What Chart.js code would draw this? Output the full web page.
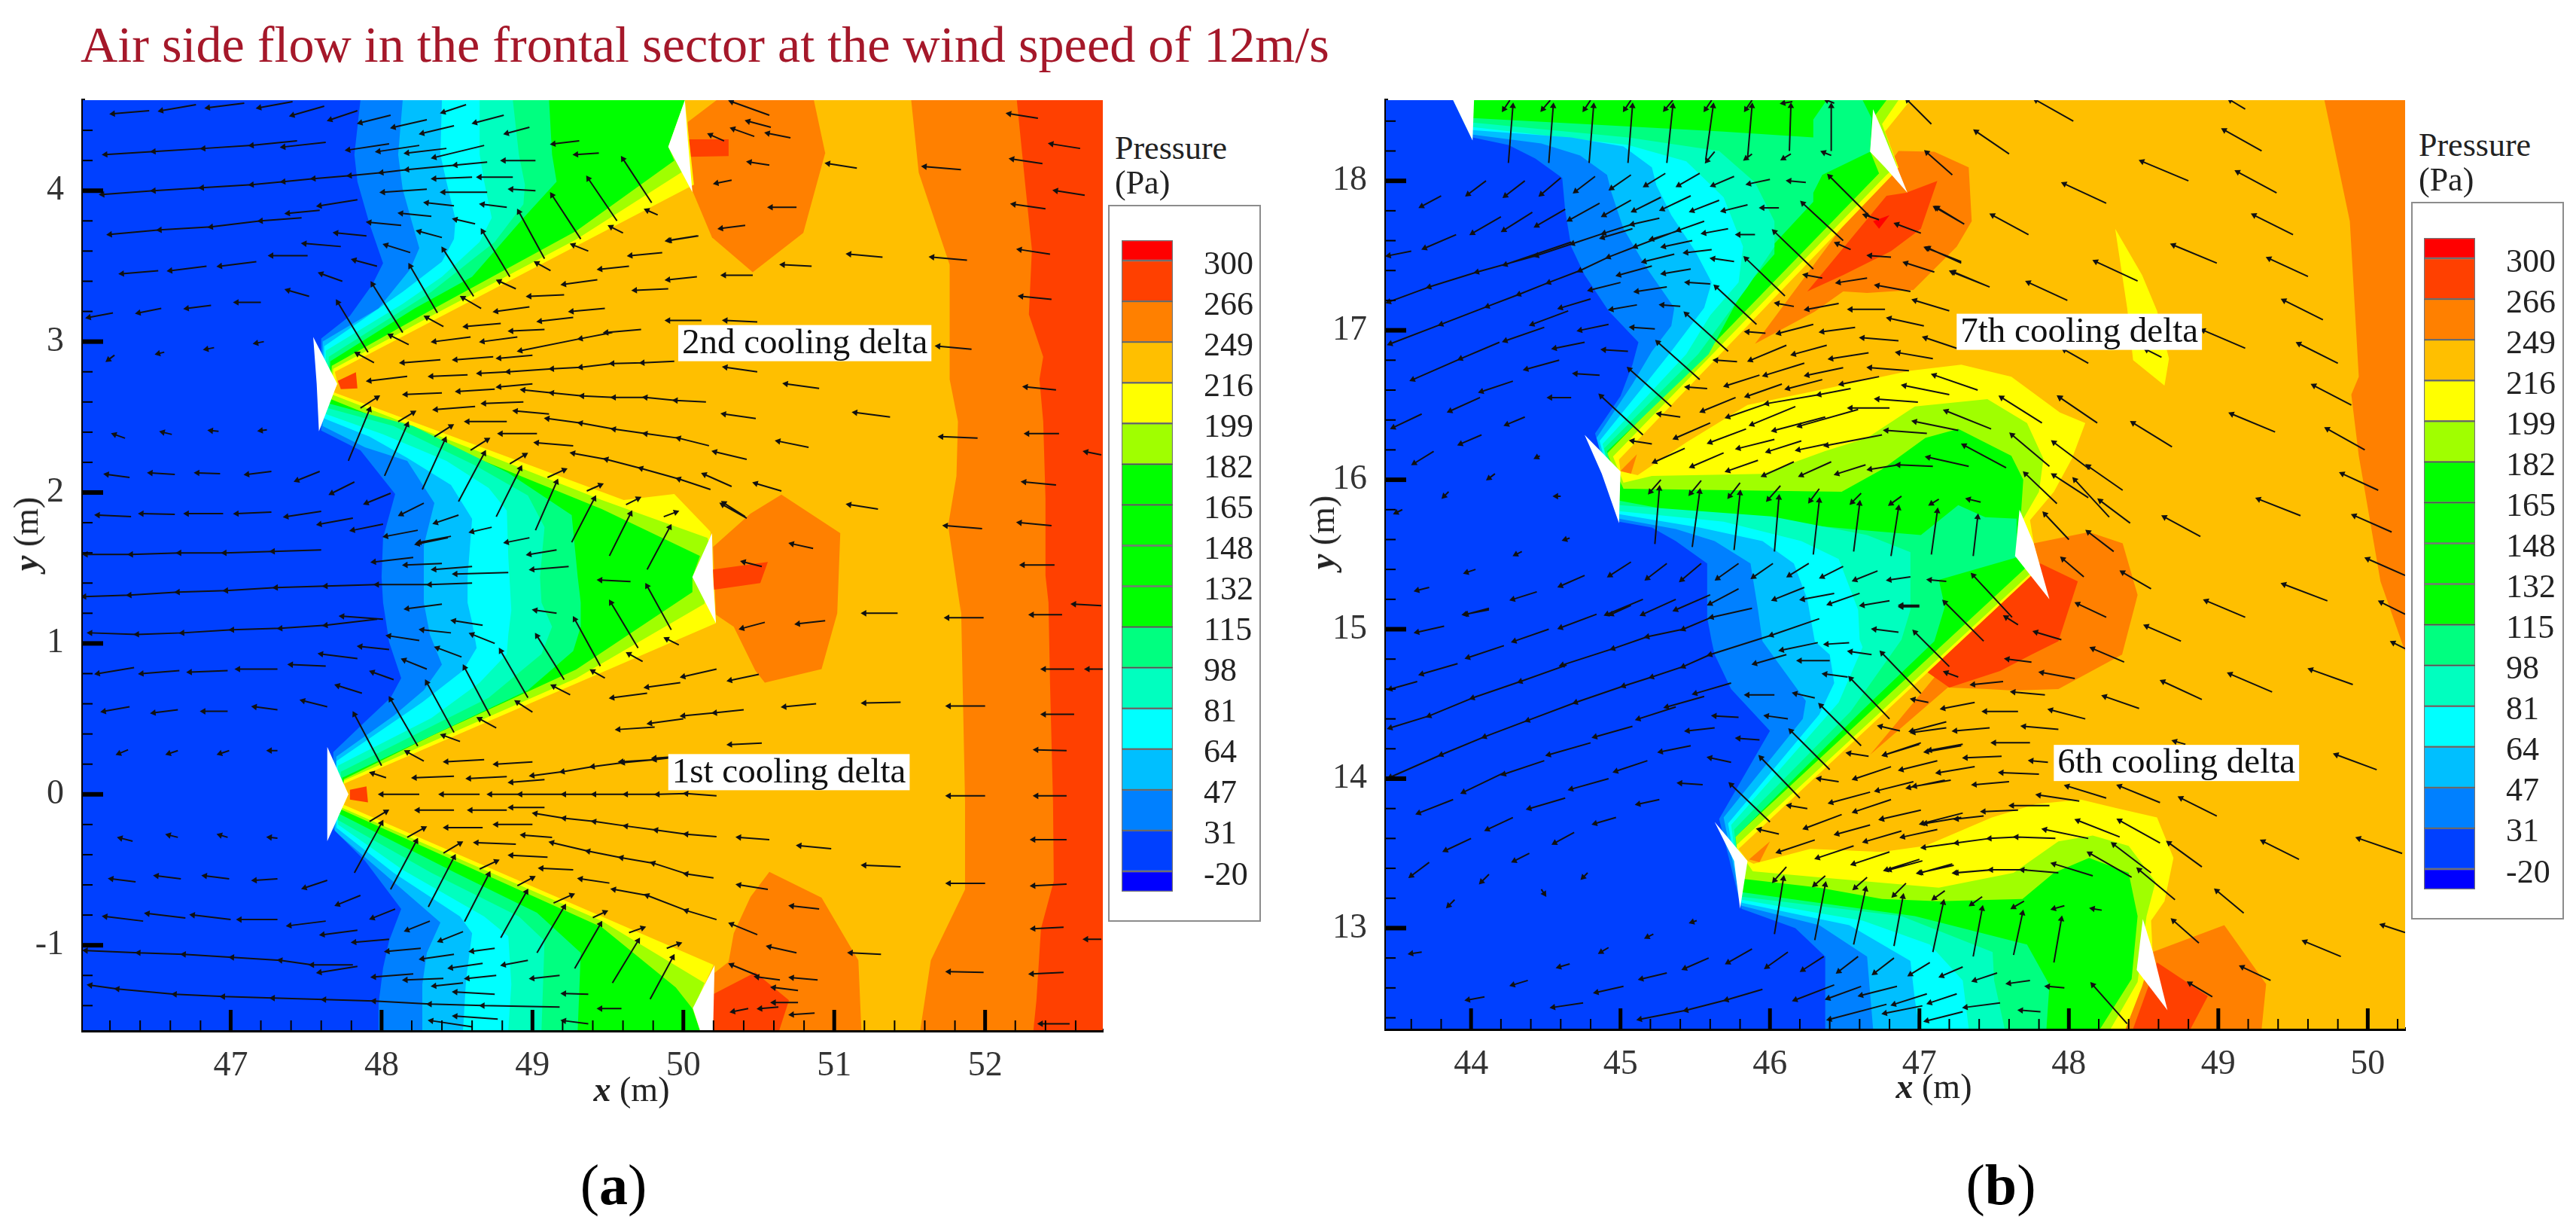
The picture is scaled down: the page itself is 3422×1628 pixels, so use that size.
<!DOCTYPE html>
<html>
<head>
<meta charset="utf-8">
<title>Air side flow in the frontal sector</title>
<script src="https://cdn.jsdelivr.net/npm/chart.js@4"></script>
<style>
html, body { margin: 0; background: #fff; }
body { position: relative; width: 3422px; height: 1628px; overflow: hidden; font-family: "Liberation Serif", serif; color: #222; filter: blur(0.6px); }
canvas { position: absolute; }
.txt { position: absolute; white-space: nowrap; transform: translate(-50%, -50%); line-height: 1; }
.axis { font-size: 46px; }
.axis b { font-style: italic; }
.press { position: absolute; white-space: nowrap; font-size: 44px; line-height: 1; transform: translateY(-50%); }
.cap { font-size: 76px; color: #000; }
#title { position: absolute; left: 107px; top: 24px; font-size: 68.2px; line-height: 70px; color: #a5182a; white-space: nowrap; }
.bar { outline: 2px solid #8c8c8c; outline-offset: -2px; }
</style>
</head>
<body>
<div id="title">Air side flow in the frontal sector at the wind speed of 12m/s</div>

<canvas id="plotA" width="1470" height="1470" style="left:0;top:0"></canvas>
<canvas id="plotB" width="1500" height="1470" style="left:1700px;top:0"></canvas>
<canvas id="barA" class="bar" width="203" height="952" style="left:1472px;top:272px"></canvas>
<canvas id="barB" class="bar" width="203" height="953" style="left:3203px;top:268px"></canvas>

<div class="txt axis" style="left:839px;top:1447px"><b>x</b> (m)</div>
<div class="txt axis" style="left:2569px;top:1443px"><b>x</b> (m)</div>
<div class="txt axis" style="left:35px;top:709px;transform:translate(-50%,-50%) rotate(-90deg)"><b>y</b> (m)</div>
<div class="txt axis" style="left:1757px;top:707px;transform:translate(-50%,-50%) rotate(-90deg)"><b>y</b> (m)</div>
<div class="press" style="left:1481px;top:197px">Pressure</div>
<div class="press" style="left:1481px;top:243px">(Pa)</div>
<div class="press" style="left:3213px;top:193px">Pressure</div>
<div class="press" style="left:3213px;top:239px">(Pa)</div>
<div class="txt cap" style="left:815px;top:1573px">(<b>a</b>)</div>
<div class="txt cap" style="left:2658px;top:1573px">(<b>b</b>)</div>

<script>
// Colour bar, bottom to top
const levels = ['-20', '31', '47', '64', '81', '98', '115', '132', '148', '165', '182', '199', '216', '249', '266', '300'];
const bandColors = ['#0000ff', '#0040ff', '#0080ff', '#00bfff', '#00ffff', '#00ffbf', '#00ff80', '#00ff00', '#00ff00',
    '#00ff00', '#00ff00', '#a0ff00', '#ffff00', '#ffbf00', '#ff8000', '#ff4000', '#ff0000'];
const bandHeights = [0.5, 1, 1, 1, 1, 1, 1, 1, 1, 1, 1, 1, 1, 1, 1, 1, 0.5];

const xRangeA = [46.02, 52.78];
const yRangeA = [-1.563, 4.6];
const xRangeB = [43.43, 50.25];
const yRangeB = [12.327, 18.54];

// Panel (a), pressure contours
const a31 = [[47.86,4.6],[47.82,4.24],[47.84,4.06],[47.92,3.78],[48.01,3.52],[47.94,3.38],[47.79,3.17],[47.6,3.02],[47.6,2.41],[47.86,2.28],[48.09,1.99],[48.01,1.7],[48,1.44],[48.01,1.27],[48.05,1.01],[48.13,0.77],[48.06,0.64],[47.89,0.48],[47.68,0.28],[47.68,-0.23],[47.89,-0.44],[48.13,-0.76],[48.05,-0.97],[48.01,-1.15],[47.98,-1.39],[47.98,-1.563]];
const a47 = [[48.14,4.6],[48.11,4.24],[48.14,4.01],[48.21,3.76],[48.25,3.62],[48.19,3.48],[47.98,3.22],[47.61,3],[47.61,2.44],[47.89,2.3],[48.17,2.21],[48.35,1.93],[48.28,1.65],[48.28,1.27],[48.32,1.06],[48.4,0.86],[48.28,0.69],[48.08,0.52],[47.7,0.25],[47.69,-0.245],[48.01,-0.52],[48.39,-0.85],[48.3,-1.05],[48.27,-1.26],[48.27,-1.563]];
const a64 = [[48.4,4.6],[48.39,4.24],[48.43,4.06],[48.49,3.81],[48.48,3.68],[48.4,3.53],[48.14,3.33],[47.62,2.97],[47.62,2.49],[47.92,2.37],[48.17,2.23],[48.46,2.05],[48.6,1.825],[48.57,1.44],[48.57,1.27],[48.6,1.14],[48.63,0.97],[48.54,0.82],[48.27,0.61],[47.7,0.22],[47.7,-0.22],[48.08,-0.52],[48.52,-0.81],[48.6,-0.92],[48.56,-1.23],[48.54,-1.563]];
const a81 = [[48.65,4.6],[48.65,4.24],[48.68,4.06],[48.73,3.82],[48.65,3.66],[48.4,3.43],[48.14,3.25],[47.63,2.94],[47.63,2.52],[48.01,2.385],[48.43,2.21],[48.71,2.03],[48.83,1.88],[48.84,1.57],[48.86,1.22],[48.84,1.06],[48.83,0.93],[48.65,0.74],[48.33,0.505],[47.71,0.19],[47.71,-0.2],[48.14,-0.5],[48.68,-0.81],[48.84,-0.94],[48.86,-1.26],[48.84,-1.563]];
const a98 = [[48.87,4.6],[48.91,4.24],[48.95,4.04],[48.94,3.91],[48.75,3.66],[48.33,3.33],[47.65,2.9],[47.64,2.56],[48.08,2.44],[48.62,2.18],[48.97,1.98],[49.08,1.77],[49.05,1.44],[49.06,1.27],[49.13,1.11],[49.06,0.93],[48.71,0.64],[47.73,0.15],[47.71,-0.17],[48.33,-0.52],[48.91,-0.81],[49.08,-0.97],[49.06,-1.563]];
const a115 = [[49.11,4.6],[49.13,4.24],[49.16,4.06],[48.95,3.83],[48.6,3.43],[48.22,3.22],[47.66,2.87],[47.65,2.59],[48.21,2.44],[48.84,2.13],[49.26,1.85],[49.3,1.44],[49.32,1.27],[49.32,1.11],[49.27,0.95],[48.97,0.69],[47.74,0.11],[47.72,-0.13],[48.49,-0.52],[49.03,-0.785],[49.32,-1.05],[49.3,-1.563]];
const a182 = [[50.01,4.6],[49.9,4.29],[49.94,4.2],[49.29,3.733],[48.33,3.21],[47.67,2.84],[47.66,2.62],[48.65,2.22],[49.46,1.89],[50.11,1.58],[50.06,1.44],[50.06,1.34],[49.29,0.827],[48.33,0.387],[47.75,0.1],[47.73,-0.1],[49.46,-0.88],[49.95,-1.28],[50.06,-1.42],[50.11,-1.563]];
const a199 = [[50.01,4.6],[49.9,4.29],[50,4.13],[49.29,3.677],[48.33,3.17],[47.68,2.82],[47.67,2.65],[48.65,2.27],[49.46,1.95],[49.78,1.835],[50.16,1.7],[50.19,1.6],[50.14,1.263],[49.29,0.769],[48.33,0.347],[47.75,0.09],[47.74,-0.09],[49.46,-0.84],[50.14,-1.25],[50.07,-1.42],[50.11,-1.563]];
const a216 = [[50.01,4.6],[50.07,4.04],[47.69,2.8],[47.71,2.72],[47.68,2.665],[49.605,1.95],[49.94,1.99],[50.18,1.74],[50.216,1.134],[47.75,0.07],[47.78,0],[47.75,-0.07],[50.2,-1.13],[50.07,-1.42],[50.11,-1.563]];
const aStrip249 = [[51.51,4.6],[51.56,4.12],[51.765,3.51],[51.765,3.23],[51.765,2.75],[51.82,2.47],[51.81,2.11],[51.755,1.78],[51.84,1.2],[51.84,1.27],[51.867,-0.05],[51.867,-0.63],[51.64,-1.1],[51.57,-1.563],[52.78,-1.563],[52.78,4.6]];
const aStrip266 = [[52.21,4.6],[52.27,4],[52.31,3.61],[52.29,3.18],[52.385,2.9],[52.36,2.75],[52.385,2.47],[52.4,1.96],[52.4,1.45],[52.42,1.27],[52.43,0.74],[52.45,-0.05],[52.455,-0.575],[52.37,-0.89],[52.34,-1.365],[52.32,-1.563],[52.78,-1.563],[52.78,4.6]];
const aBlobs249 = [
    [[50.03,4.455],[50.22,4.6],[50.865,4.6],[50.94,4.25],[50.795,3.72],[50.46,3.46],[50.19,3.69],[50.06,4],[50.03,4.3]],
    [[50.197,1.64],[50.445,1.86],[50.65,1.986],[51.04,1.73],[51.02,1.2],[50.916,0.83],[50.54,0.74],[50.477,0.82],[50.334,1.11],[50.216,1.19]],
    [[50.57,-0.514],[50.916,-0.685],[51.16,-1.1],[51.18,-1.563],[50.197,-1.563],[50.197,-1.19],[50.3,-1.11],[50.334,-0.92],[50.445,-0.68]]
];
const aBlobs266 = [
    [[50.03,4.34],[50.3,4.34],[50.3,4.23],[50.04,4.225]],
    [[50.197,1.49],[50.56,1.54],[50.51,1.4],[50.197,1.355]],
    [[50.197,-1.325],[50.477,-1.18],[50.7,-1.365],[50.636,-1.563],[50.197,-1.563]],
    [[47.71,2.74],[47.83,2.797],[47.84,2.69],[47.73,2.685]],
    [[47.79,0.03],[47.9,0.052],[47.91,-0.053],[47.79,-0.035]]
];
const aStruts = [
    [[50.01,4.6],[49.9,4.29],[50.06,3.99],[50.03,4.33]],
    [[47.547,3.03],[47.706,2.72],[47.585,2.405],[47.57,2.72]],
    [[50.19,1.73],[50.06,1.44],[50.216,1.134],[50.197,1.44]],
    [[47.64,0.315],[47.78,0],[47.64,-0.311]],
    [[50.207,-1.133],[50.063,-1.417],[50.11,-1.563],[50.197,-1.563]]
];

// Panel (a), velocity arrows: head x, head y, tail x, tail y
const arrowsA = [
[46.22,4.51,46.46,4.53],[46.54,4.53,46.77,4.57],[46.85,4.55,47.09,4.58],[47.19,4.55,47.41,4.59],[47.41,4.5,47.62,4.56],[47.66,4.47,47.84,4.53],
[47.35,4.29,47.63,4.32],[47.78,4.27,48.05,4.31],[47.38,3.85,47.59,3.87],[47.59,3.9,47.84,3.94],
[46.28,3.45,46.52,3.47],[46.6,3.47,46.84,3.5],[46.93,3.5,47.17,3.53],[47.27,3.57,47.51,3.57],
[46.06,3.16,46.22,3.19],[46.39,3.19,46.54,3.22],[46.71,3.22,46.87,3.24],[47.04,3.26,47.2,3.26],[47.38,3.34,47.52,3.3],
[46.19,2.88,46.23,2.91],[46.52,2.92,46.56,2.93],[46.84,2.95,46.89,2.96],[47.17,2.99,47.22,3],
[46.23,2.385,46.3,2.36],[46.55,2.4,46.61,2.385],[46.87,2.41,46.92,2.405],[47.2,2.41,47.24,2.415],
[46.18,2.12,46.33,2.1],[46.47,2.13,46.63,2.12],[46.78,2.13,46.93,2.125],[47.11,2.12,47.27,2.14],[47.44,2.08,47.59,2.14],[47.67,1.995,47.82,2.07],[47.9,1.93,48.06,1.995],[48.13,1.855,48.28,1.93],[48.36,1.8,48.51,1.85],
[46.12,1.85,46.34,1.84],[46.41,1.86,46.63,1.855],[46.71,1.86,46.95,1.86],[47.04,1.86,47.27,1.87],[47.37,1.84,47.6,1.875],[47.59,1.79,47.81,1.83],[47.81,1.75,48.01,1.79],[48.03,1.71,48.24,1.75],[48.24,1.66,48.44,1.7],
[47.86,4.45,48.06,4.5],[48.08,4.42,48.3,4.47],[48.27,4.38,48.48,4.43],[48.41,4.52,48.56,4.57],[48.62,4.45,48.81,4.5],[48.83,4.38,48.98,4.42],[47.98,4.26,48.25,4.3],[48.17,4.25,48.43,4.28],[48.35,4.22,48.68,4.3],[49.14,4.31,49.31,4.33],[49.29,4.24,49.44,4.25],[48.81,4.2,49.02,4.2],
[48.35,4.08,48.6,4.09],[48.65,4.09,48.87,4.09],[48.01,3.99,48.3,4.01],[48.41,3.99,48.7,3.99],[48.86,4.01,49.02,4],[48.13,3.85,48.33,3.83],[48.3,3.92,48.48,3.9],[48.67,3.91,48.83,3.89],[47.92,3.79,48.13,3.77],[48.49,3.81,48.62,3.78],[48.25,3.73,48.4,3.69],[47.7,3.72,47.9,3.7],[47.49,3.65,47.73,3.63],[48.03,3.64,48.19,3.59],[47.82,3.54,47.97,3.5],[47.6,3.45,47.74,3.4],
[49.6,4.21,49.79,3.92],[49.37,4.08,49.56,3.8],[49.13,3.97,49.32,3.68],[48.91,3.86,49.08,3.55],[48.67,3.73,48.85,3.43],[48.41,3.61,48.61,3.3],[48.19,3.5,48.37,3.19],[47.94,3.38,48.14,3.06],[47.71,3.26,47.91,2.93],
[49.76,3.87,49.83,3.84],[49.52,3.76,49.6,3.72],[49.27,3.64,49.37,3.6],[49.03,3.52,49.12,3.47],[48.78,3.4,48.89,3.35],[48.54,3.29,48.66,3.22],[48.3,3.16,48.41,3.1],[48.06,3.04,48.18,2.98],[47.84,2.92,47.95,2.86],
[49.91,3.67,50.1,3.7],[49.65,3.57,49.86,3.59],[49.45,3.48,49.64,3.5],[49.21,3.38,49.43,3.41],[48.98,3.3,49.21,3.31],[48.76,3.2,48.98,3.23],[49.26,3.2,49.48,3.22],[49.05,3.135,49.27,3.16],[48.56,3.1,48.79,3.12],[48.86,3.07,49.08,3.08],[49.49,3.06,49.72,3.08],[48.35,3,48.59,3.03],[48.67,3,48.9,3.03],[48.92,2.94,49.32,3.02],[49.32,3.02,49.53,3.06],[48.14,2.86,48.39,2.88],[48.49,2.88,48.74,2.9],[48.78,2.89,49,2.91],
[47.92,2.74,48.17,2.77],[48.33,2.77,48.57,2.78],[48.16,2.65,48.4,2.66],[48.51,2.67,48.75,2.685],[48.78,2.7,49,2.72],[48.36,2.55,48.62,2.57],[48.68,2.59,48.94,2.6],[48.89,2.54,49.11,2.52],[48.57,2.47,48.83,2.47],[48.79,2.39,49.03,2.39],[49.03,2.33,49.27,2.31],[50.27,1.93,50.41,1.84],
[47.92,2.55,47.78,2.21],[48.17,2.45,48.02,2.11],[48.42,2.35,48.27,2.02],[48.68,2.26,48.51,1.94],[48.92,2.16,48.76,1.84],[49.16,2.07,49.02,1.75],[49.41,1.96,49.26,1.67],[49.65,1.86,49.51,1.58],[49.91,1.77,49.76,1.49],
[47.97,2.63,47.86,2.56],[48.21,2.53,48.11,2.47],[48.46,2.44,48.35,2.37],[48.7,2.35,48.59,2.28],[48.95,2.25,48.85,2.19],[49.21,2.15,49.1,2.1],[49.45,2.05,49.36,2.01],[49.7,1.96,49.62,1.92],[49.95,1.87,49.87,1.84],
[48.25,1.67,48.46,1.71],[48.6,1.74,48.73,1.77],[47.95,1.54,48.21,1.57],[48.16,1.52,48.4,1.53],[48.35,1.49,48.6,1.51],[48.49,1.46,48.84,1.47],[49,1.49,49.24,1.51],[48.83,1.67,48.98,1.7],[48.98,1.59,49.16,1.62],[49.45,1.42,49.65,1.41],
[47.74,1.18,48.01,1.16],[48.17,1.23,48.4,1.26],[48.48,1.15,48.67,1.12],[49.02,1.22,49.16,1.2],[48.27,1.09,48.46,1.07],[48.05,1.05,48.25,1.02],[48.6,1.06,48.75,1],[47.6,0.93,47.84,0.9],[47.86,0.98,48.05,0.96],[48.37,0.97,48.53,0.91],[48.15,0.89,48.3,0.83],[47.4,0.86,47.63,0.85],[47.94,0.81,48.08,0.76],[47.71,0.72,47.87,0.67],[47.48,0.62,47.64,0.58],
[46.12,0.8,46.36,0.84],[46.41,0.8,46.66,0.82],[46.73,0.81,46.98,0.82],[47.05,0.83,47.31,0.83],[46.16,0.55,46.33,0.58],[46.49,0.54,46.65,0.56],[46.82,0.55,46.98,0.55],[47.16,0.58,47.31,0.56],
[46.26,0.27,46.32,0.295],[46.59,0.27,46.65,0.29],[46.93,0.27,46.99,0.29],[47.26,0.29,47.31,0.29],[46.27,-0.29,46.35,-0.31],[46.59,-0.27,46.65,-0.285],[46.93,-0.27,46.98,-0.285],[47.26,-0.285,47.31,-0.29],
[46.21,-0.56,46.37,-0.58],[46.51,-0.54,46.67,-0.56],[46.83,-0.54,46.99,-0.56],[47.16,-0.57,47.31,-0.56],[47.49,-0.62,47.64,-0.57],[47.71,-0.73,47.86,-0.67],[47.94,-0.82,48.09,-0.76],[48.17,-0.9,48.32,-0.84],[48.39,-0.97,48.54,-0.91],
[46.17,-0.81,46.42,-0.84],[46.45,-0.79,46.7,-0.82],[46.75,-0.8,47,-0.83],[47.06,-0.83,47.31,-0.83],[47.39,-0.87,47.63,-0.84],[47.61,-0.93,47.84,-0.9],[47.82,-0.98,48.05,-0.96],
[47.59,-1.18,47.84,-1.14],[48.04,-1.04,48.26,-1.02],[48.27,-1.09,48.48,-1.06],[48.6,-1.04,48.75,-1.02],[48.46,-1.15,48.67,-1.12],[48.81,-1.13,48.97,-1.1],[49,-1.22,49.18,-1.2],[48.35,-1.27,48.54,-1.25],[48.57,-1.22,48.76,-1.2],[47.95,-1.21,48.21,-1.19],[48.16,-1.23,48.41,-1.22],
[48.49,-1.31,48.75,-1.325],[49.21,-1.32,49.37,-1.325],[49.45,-1.42,49.59,-1.42],[48.33,-1.5,48.6,-1.54],[48.49,-1.47,48.77,-1.49],[49.21,-1.5,49.37,-1.52],
[47.82,0.53,48,0.19],[48.06,0.63,48.24,0.32],[48.3,0.74,48.48,0.41],[48.55,0.84,48.72,0.52],[48.79,0.95,48.97,0.64],[49.03,1.05,49.21,0.76],[49.28,1.16,49.45,0.85],[49.52,1.27,49.7,0.97],[49.76,1.38,49.92,1.09],
[47.94,0.14,48.03,0.11],[48.17,0.28,48.28,0.22],[48.41,0.39,48.52,0.35],[48.65,0.5,48.76,0.44],[48.9,0.61,49,0.545],[49.14,0.716,49.25,0.66],[49.4,0.816,49.48,0.77],[49.64,0.93,49.73,0.88],[49.89,1.03,49.97,0.99],
[48.43,0.216,48.68,0.23],[48.76,0.2,49,0.215],[48.22,0.11,48.48,0.12],[48.58,0.105,48.83,0.118],[48.86,0.08,49.08,0.097],[48,0,48.25,0],[48.4,0,48.65,0],
[48.24,-0.105,48.48,-0.105],[48.59,-0.105,48.83,-0.105],[48.86,-0.087,49.08,-0.087],[48.43,-0.22,48.67,-0.22],[48.76,-0.2,49,-0.2],[48.94,-0.27,49.13,-0.285],[48.63,-0.32,48.89,-0.33],[48.86,-0.404,49.1,-0.417],[49.06,-0.49,49.27,-0.5],[49.32,-0.56,49.51,-0.588],
[48,-0.19,47.82,-0.52],[48.23,-0.31,48.06,-0.63],[48.48,-0.417,48.31,-0.746],[48.71,-0.53,48.55,-0.843],[48.96,-0.646,48.79,-0.95],[49.21,-0.746,49.03,-1.05],[49.45,-0.86,49.28,-1.154],[49.7,-0.97,49.53,-1.25],[49.93,-1.08,49.78,-1.357],
[48.03,-0.114,47.92,-0.18],[48.28,-0.224,48.17,-0.285],[48.52,-0.324,48.41,-0.39],[48.76,-0.443,48.65,-0.495],[49,-0.553,48.9,-0.606],[49.26,-0.667,49.14,-0.72],[49.48,-0.78,49.4,-0.817],[49.73,-0.885,49.64,-0.917],[49.97,-0.99,49.89,-1.02],
[50.32,4.59,50.57,4.5],[50.43,4.46,50.58,4.42],[50.33,4.41,50.47,4.36],[50.56,4.38,50.71,4.35],[50.18,4.37,50.27,4.33],[50.44,4.19,50.57,4.17],[50.22,4.05,50.32,4.07],[50.58,3.89,50.75,3.89],[50.25,3.75,50.41,3.77],[49.9,3.67,50.09,3.7],[50.96,4.18,51.15,4.15],[51.6,4.16,51.84,4.14],[52.16,4.51,52.35,4.48],[52.44,4.31,52.63,4.28],[52.18,4.21,52.38,4.18],[52.47,4,52.66,3.97],[52.19,3.91,52.4,3.88],[52.23,3.61,52.43,3.58],[52.24,3.3,52.44,3.28],
[49.9,3.41,50.09,3.43],[50.27,3.44,50.46,3.44],[50.66,3.51,50.85,3.5],[51.1,3.58,51.32,3.56],[51.65,3.56,51.88,3.54],[49.68,3.34,49.9,3.35],[49.9,3.14,50.12,3.14],[50.28,3.14,50.49,3.13],[51.69,2.97,51.91,2.95],[52.27,2.7,52.47,2.68],[50.28,2.83,50.49,2.8],[50.68,2.72,50.9,2.69],[51.14,2.53,51.37,2.5],[50.27,2.52,50.48,2.49],[52.28,2.39,52.49,2.39],[51.71,2.37,51.95,2.36],[50.63,2.34,50.83,2.3],[52.67,2.27,52.77,2.25],[50.21,2.27,50.42,2.22],[52.26,2.07,52.47,2.05],[50.48,2.06,50.65,2.01],[50.14,2.12,50.32,2.04],[50.26,1.92,50.42,1.83],[51.1,1.92,51.29,1.89],[51.74,1.78,51.98,1.76],[52.23,1.8,52.44,1.78],[50.72,1.66,50.86,1.63],[52.25,1.52,52.46,1.52],[50.4,1.54,50.52,1.51],[52.59,1.26,52.77,1.25],[51.2,1.2,51.42,1.2],[51.75,1.17,51.99,1.17],[52.31,1.19,52.51,1.19],[50.39,1.1,50.54,1.14],[50.76,1.13,50.94,1.15],
[52.39,0.83,52.59,0.83],[52.68,0.83,52.78,0.83],[50.31,0.755,50.5,0.795],[50,0.78,50.22,0.83],[49.76,0.71,49.98,0.74],[49.53,0.64,49.76,0.67],[50.67,0.58,50.88,0.6],[51.2,0.605,51.44,0.61],[51.76,0.585,52,0.585],[52.39,0.53,52.59,0.53],[50,0.52,50.21,0.54],[50.21,0.54,50.4,0.56],[49.78,0.47,50,0.5],[49.57,0.43,49.81,0.445],[50.31,0.33,50.52,0.34],[52.34,0.295,52.54,0.29],[49.59,0.216,49.81,0.23],[49.81,0.24,50.02,0.255],[51.76,-0.01,52,-0.01],[52.34,-0.01,52.54,-0.01],[50.37,-0.285,50.57,-0.3],[50.77,-0.34,50.98,-0.36],[51.2,-0.47,51.44,-0.48],[52.32,-0.3,52.54,-0.3],[51.76,-0.59,52,-0.59],[52.32,-0.606,52.54,-0.595],[50.37,-0.6,50.56,-0.63],[50.72,-0.74,50.9,-0.76],[50.32,-0.86,50.49,-0.93],[50.57,-1.01,50.75,-1.05],[51.11,-1.05,51.31,-1.06],[52.32,-0.89,52.52,-0.88],[52.67,-0.96,52.77,-0.96],[51.76,-1.175,51.99,-1.18],[52.31,-1.19,52.52,-1.18],[50.32,-1.13,50.49,-1.2],[50.49,-1.21,50.64,-1.23],[50.72,-1.215,50.89,-1.23],[50.6,-1.28,50.76,-1.3],[50.33,-1.44,50.43,-1.42],[50.51,-1.42,50.63,-1.41],[50.6,-1.38,50.76,-1.38],[50.72,-1.46,50.87,-1.45],[52.37,-1.52,52.56,-1.52]
];
// Long runs of arrows: each point is the head of the arrow that starts at the next point
const chainsA = [
[[46.17,4.24],[46.49,4.26],[46.82,4.28],[47.14,4.3],[47.44,4.33]],
[[46.15,3.975],[46.49,4],[46.81,4.02],[47.14,4.04],[47.35,4.06],[47.55,4.08],[47.79,4.1],[48,4.12],[48.17,4.14],[48.49,4.17],[48.7,4.19]],
[[46.2,3.71],[46.53,3.74],[46.87,3.76],[47.2,3.8],[47.47,3.82]],
[[46.04,1.59],[46.34,1.59],[46.66,1.6],[46.96,1.6],[47.28,1.61],[47.6,1.62]],
[[46.03,1.31],[46.33,1.32],[46.65,1.34],[46.97,1.35],[47.3,1.37],[47.63,1.38],[47.97,1.39],[48.32,1.39],[48.6,1.4]],
[[46.07,1.07],[46.38,1.06],[46.68,1.07],[47.01,1.09],[47.33,1.1],[47.63,1.12],[47.97,1.16]],
[[46.04,-1.035],[46.39,-1.05],[46.69,-1.06],[47.01,-1.08],[47.33,-1.1],[47.54,-1.13],[47.81,-1.13]],
[[46.07,-1.265],[46.25,-1.29],[46.63,-1.325],[46.95,-1.34],[47.28,-1.35],[47.62,-1.36],[47.95,-1.37],[48.32,-1.39],[48.67,-1.4],[49.18,-1.41]],
[[48.65,2.79],[48.84,2.8],[49.13,2.82],[49.32,2.83],[49.53,2.855],[49.73,2.86],[49.94,2.87]],
[[48.94,2.68],[49.13,2.66],[49.33,2.64],[49.54,2.63],[49.75,2.63],[49.95,2.61],[50.15,2.6]],
[[49.1,2.49],[49.32,2.46],[49.54,2.42],[49.75,2.39],[49.97,2.36],[50.17,2.31]],
[[49.27,2.26],[49.49,2.22],[49.72,2.16],[49.97,2.09],[50.18,2.02]],
[[49,0.124],[49.2,0.15],[49.4,0.184],[49.6,0.21],[49.81,0.23],[50.02,0.255]],
[[48.72,0],[48.92,0],[49.21,0],[49.41,0],[49.62,0],[49.83,0],[50.02,0.005],[50.22,-0.01]],
[[49.02,-0.127],[49.21,-0.158],[49.41,-0.18],[49.62,-0.21],[49.82,-0.237],[50.02,-0.264],[50.22,-0.28]],
[[49.13,-0.32],[49.37,-0.377],[49.59,-0.42],[49.8,-0.456],[50.02,-0.527],[50.2,-0.554]],
[[49.54,-0.63],[49.76,-0.67],[50.02,-0.77],[50.22,-0.83]]
];

// Panel (b), pressure contours
const b31 = [[43.88,18.54],[44.01,18.27],[44.01,18.29],[44.25,18.24],[44.43,18.15],[44.61,18.02],[44.63,17.8],[44.67,17.56],[44.76,17.37],[44.92,17.13],[45.12,16.92],[45.08,16.77],[45,16.56],[44.83,16.31],[44.99,15.72],[45.21,15.68],[45.37,15.59],[45.58,15.44],[45.58,15.08],[45.61,14.92],[45.63,14.83],[45.74,14.6],[46,14.32],[45.66,13.73],[45.81,13.13],[46.17,13],[46.37,12.81],[46.37,12.327]];
const b47 = [[43.88,18.54],[44.01,18.27],[44.01,18.31],[44.47,18.25],[44.73,18.17],[44.91,18.04],[44.94,17.92],[45.02,17.68],[45.18,17.41],[45.36,17.15],[45.34,17.03],[45.21,16.86],[45.08,16.64],[44.84,16.28],[44.99,15.74],[45.37,15.67],[45.63,15.59],[45.87,15.44],[45.92,15.13],[45.95,14.92],[46,14.85],[46.24,14.52],[46.22,14.4],[45.69,13.74],[45.81,13.15],[46.33,13.02],[46.65,12.81],[46.69,12.327]];
const b64 = [[43.88,18.54],[44.01,18.27],[44.01,18.34],[44.67,18.29],[45.02,18.23],[45.21,18.09],[45.24,17.97],[45.34,17.77],[45.5,17.53],[45.61,17.32],[45.56,17.15],[45.34,16.86],[45.15,16.62],[44.86,16.26],[44.99,15.77],[45.53,15.68],[45.95,15.59],[46.16,15.44],[46.25,15.2],[46.3,14.92],[46.4,14.83],[46.43,14.64],[46.33,14.43],[45.72,13.7],[45.81,13.17],[46.53,13.02],[46.94,12.78],[46.97,12.52],[47,12.327]];
const b81 = [[43.88,18.54],[44.01,18.27],[44.01,18.36],[45.05,18.24],[45.44,18.13],[45.69,17.89],[45.82,17.56],[45.79,17.32],[45.6,17.1],[45.44,16.84],[44.88,16.24],[44.99,15.79],[45.69,15.72],[46.21,15.59],[46.46,15.47],[46.59,15.13],[46.6,14.93],[46.62,14.88],[46.46,14.51],[45.74,13.69],[45.81,13.19],[46.62,13.05],[47.07,12.89],[47.29,12.65],[47.33,12.327]];
const b98 = [[43.88,18.54],[44.01,18.27],[44.01,18.39],[45.05,18.29],[45.66,18.2],[45.9,17.99],[46.03,17.73],[46.03,17.56],[45.85,17.29],[45.52,16.84],[44.89,16.21],[44.99,15.83],[46.01,15.755],[46.65,15.63],[46.94,15.515],[46.94,15.13],[46.88,14.93],[46.54,14.45],[45.76,13.66],[45.81,13.21],[46.88,13.08],[47.49,12.84],[47.5,12.65],[47.57,12.327]];
const b115 = [[43.88,18.54],[44.01,18.27],[44.01,18.42],[45.69,18.33],[46.29,18.29],[46.29,18.41],[46.38,18.54],[46.62,18.54],[46.68,18.42],[46.67,18.195],[46.35,18.04],[46.29,17.92],[46.29,17.86],[46.03,17.58],[46.03,17.51],[45.82,17.27],[45.59,16.84],[44.91,16.19],[44.99,15.86],[45.37,15.79],[46.01,15.72],[46.65,15.66],[47.01,15.63],[47.26,15.83],[47.44,15.75],[47.65,15.74],[47.65,15.48],[47.13,15.33],[47.17,15.15],[47.1,14.92],[46.61,14.45],[45.77,13.61],[45.81,13.24],[46.97,13.08],[47.72,12.89],[47.87,12.62],[47.85,12.327]];
const b182 = [[46.78,18.54],[46.69,18.42],[46.67,18.2],[46.73,18.05],[44.91,16.176],[45.02,15.94],[46.48,15.92],[46.75,16.07],[47.04,16.28],[47.26,16.34],[47.615,16.16],[47.695,16],[47.68,15.78],[47.71,15.41],[45.74,13.585],[45.82,13.33],[46.33,13.27],[46.75,13.195],[47.13,13.18],[47.69,13.195],[47.9,13.37],[48.135,13.47],[48.4,13.37],[48.46,13.08],[48.42,12.66],[48.21,12.327]];
const b199 = [[46.86,18.54],[46.75,18.38],[46.85,18.1],[46.78,18.04],[44.95,16.155],[45.02,15.98],[45.21,16.025],[45.95,16.04],[46.365,16.19],[46.65,16.28],[46.97,16.49],[47.455,16.54],[47.72,16.38],[47.83,16.14],[47.8,15.92],[47.69,15.73],[47.74,15.37],[45.77,13.55],[45.885,13.38],[46.33,13.34],[47.13,13.27],[47.63,13.37],[47.93,13.58],[48.16,13.62],[48.4,13.55],[48.58,13.31],[48.52,13.08],[48.46,12.64],[48.28,12.327]];
const b216 = [[46.94,18.54],[46.77,18.33],[46.86,18.09],[46.81,18.03],[44.99,16.135],[45,16.056],[45.115,16.03],[45.44,16.25],[45.85,16.5],[46.33,16.6],[46.94,16.73],[47.28,16.77],[47.615,16.69],[47.94,16.45],[48.11,16.38],[48.02,16.14],[47.9,15.92],[47.74,15.73],[47.765,15.575],[47.84,15.28],[47.75,15.36],[45.79,13.53],[45.85,13.45],[45.89,13.43],[46.27,13.53],[46.75,13.51],[47.04,13.55],[47.485,13.74],[47.78,13.83],[48.08,13.86],[48.31,13.805],[48.59,13.74],[48.7,13.47],[48.64,13.18],[48.55,13.05],[48.56,12.84],[48.49,12.61],[48.38,12.327]];
const bStrip249 = [[49.71,18.54],[49.88,17.73],[49.94,16.69],[49.89,16.57],[49.94,16.16],[50.085,15.32],[50.25,14.85],[50.25,18.54]];
const bBlobs216 = [[[48.31,17.68],[48.49,17.37],[48.59,17.13],[48.67,16.81],[48.64,16.63],[48.43,16.8],[48.39,17.15]]];
const bBlobs249 = [
    [[45.9,16.91],[46.86,18.2],[47.1,18.195],[47.33,18.09],[47.35,17.73],[47.25,17.56],[46.96,17.27],[46.65,17.25],[46.49,17.26],[46.3,17.125]],
    [[47.765,15.575],[48.135,15.65],[48.36,15.575],[48.46,15.23],[48.445,15.17],[48.356,14.83],[47.93,14.6],[47.63,14.59],[47.455,14.6],[47.19,14.61],[46.67,14.16],[47.7,15.4]],
    [[48.56,12.84],[49.04,13.02],[49.32,12.625],[49.29,12.327],[48.35,12.327]],
    [[45,16.06],[45.11,16.17],[45.07,16.04]],
    [[45.86,13.46],[46,13.58],[45.93,13.44]]
];
const bBlobs266 = [
    [[46.25,17.26],[46.78,17.9],[46.91,17.92],[47.12,18],[47.01,17.68],[46.81,17.53],[46.49,17.37]],
    [[47.81,15.44],[48.06,15.32],[47.93,14.92],[47.75,14.83],[47.54,14.72],[47.2,14.61],[47,14.75],[47.6,15.33]],
    [[48.59,12.77],[48.93,12.545],[48.815,12.327],[48.43,12.327]]
];
const bBlobs300 = [[[46.69,17.73],[46.8,17.77],[46.73,17.68]]];
const bStruts = [
    [[43.88,18.54],[44.01,18.27],[44.02,18.54]],
    [[44.76,16.3],[45,16.056],[44.99,15.71],[44.875,16.04]],
    [[46.69,18.48],[46.67,18.195],[46.77,18.09],[46.92,17.92],[46.75,18.34]],
    [[47.67,15.8],[47.64,15.49],[47.87,15.2],[47.765,15.575]],
    [[45.63,13.71],[45.85,13.45],[45.8,13.13],[45.76,13.45]],
    [[48.495,13.06],[48.454,12.72],[48.66,12.45],[48.563,12.84]]
];

// Panel (b), velocity arrows: head x, head y, tail x, tail y
const arrowsB = [
[44.28,18.5,44.25,18.12],[44.55,18.5,44.52,18.12],[44.82,18.5,44.79,18.12],[45.08,18.5,45.05,18.12],[45.35,18.5,45.31,18.12],[45.62,18.5,45.57,18.14],[45.88,18.5,45.85,18.15],[46.14,18.5,46.13,18.2],[46.41,18.5,46.41,18.2],
[44.22,18.48,44.26,18.54],[44.48,18.48,44.53,18.54],[44.76,18.48,44.8,18.54],[45.03,18.48,45.07,18.54],[45.3,18.48,45.35,18.54],[45.57,18.48,45.61,18.54],[45.84,18.48,45.88,18.54],[46.09,18.52,46.15,18.53],[46.38,18.54,46.43,18.52],
[45.58,18.135,45.63,18.195],[45.84,18.15,45.88,18.18],[46.09,18.15,46.14,18.18],[46.36,18.19,46.41,18.17],
[43.67,17.83,43.8,17.9],[43.98,17.91,44.1,18],[44.23,17.9,44.36,18],[44.47,17.91,44.6,18.02],[44.7,17.93,44.83,18.03],[44.94,17.95,45.07,18.04],[45.17,17.97,45.3,18.05],[45.39,17.97,45.53,18.05],[45.62,17.97,45.76,18.03],[45.86,17.98,46,18.01],[46.13,18,46.24,17.99],
[44.01,17.65,44.2,17.76],[43.69,17.55,43.9,17.64],[44.22,17.67,44.41,17.79],[44.44,17.7,44.63,17.81],[44.66,17.74,44.86,17.85],[44.89,17.77,45.07,17.87],[45.09,17.8,45.27,17.89],[45.28,17.81,45.47,17.9],[45.48,17.8,45.66,17.87],[45.69,17.8,45.85,17.84],[45.95,17.82,46.06,17.82],
[43.45,17.5,43.6,17.53],[44.23,17.44,44.67,17.59],[44.88,17.62,45.08,17.68],[45.21,17.61,45.4,17.67],[45.29,17.56,45.48,17.6],[45.56,17.65,45.72,17.68],[45.79,17.64,45.9,17.64],[45.16,17.46,45.36,17.51],[45.44,17.52,45.61,17.54],[44.99,17.37,45.21,17.43],[45.29,17.38,45.47,17.41],[45.62,17.48,45.76,17.46],[45.45,17.32,45.6,17.31],[44.8,17.27,45,17.32],[45.11,17.26,45.31,17.29],[45.28,17.17,45.4,17.16],[44.6,17.15,44.8,17.21],[44.94,17.14,45.11,17.17],
[44.41,17.04,44.65,17.13],[44.73,17,44.92,17.04],[45.08,17.02,45.23,17.01],[44.23,16.93,44.49,17.02],[44.56,16.88,44.76,16.92],[44.89,16.87,45.05,16.86],[44.37,16.74,44.59,16.8],[44.7,16.71,44.86,16.7],[44.07,16.59,44.28,16.66],[44.53,16.55,44.67,16.55],[43.86,16.46,44.06,16.55],[43.48,16.35,43.67,16.44],[44.24,16.37,44.36,16.42],[43.93,16.24,44.07,16.3],[43.62,16.11,43.75,16.19],
[44.44,16.15,44.46,16.16],[44.12,16.01,44.16,16.04],[43.82,15.89,43.85,15.92],[44.57,15.89,44.6,15.89],[43.5,15.78,43.54,15.8],[44.63,15.6,44.66,15.61],[44.3,15.5,44.34,15.52],[43.97,15.38,44.03,15.4],[43.64,15.26,43.72,15.28],
[44.93,15.36,45.07,15.45],[45.18,15.34,45.31,15.44],[45.41,15.33,45.54,15.44],[45.65,15.34,45.79,15.44],[45.89,15.35,46.02,15.44],[46.13,15.36,46.26,15.44],[46.35,15.35,46.49,15.42],[46.57,15.33,46.72,15.39],[46.8,15.33,46.94,15.35],[47.07,15.33,47.18,15.32],
[44.6,15.29,44.76,15.36],[44.28,15.2,44.44,15.25],[43.96,15.1,44.12,15.13],[45.37,15.13,45.6,15.23],[45.6,15.17,45.79,15.27],[45.15,15.1,45.37,15.2],[44.91,15.1,45.15,15.2],[46.03,15.2,46.23,15.28],[46.22,15.2,46.43,15.24],[46.4,15.17,46.6,15.24],[46.62,15.16,46.8,15.19],[46.88,15.15,47,15.15],
[46.4,18.03,46.67,17.76],[46.22,17.85,46.49,17.6],[46.03,17.66,46.29,17.41],[45.84,17.48,46.1,17.23],[45.64,17.29,45.91,17.04],[45.44,17.11,45.72,16.86],[45.25,16.92,45.53,16.67],[45.06,16.74,45.34,16.49],[44.87,16.56,45.15,16.3],
[46.64,17.77,46.73,17.74],[46.45,17.58,46.54,17.54],[46.24,17.37,46.35,17.35],[46.05,17.18,46.16,17.16],[45.85,16.99,45.97,16.98],[45.64,16.8,45.78,16.79],[45.45,16.62,45.58,16.61],[45.26,16.44,45.4,16.42],[45.08,16.26,45.21,16.24],
[45.26,15.94,45.23,15.57],[45.53,15.92,45.48,15.55],[45.8,15.91,45.76,15.53],[46.06,15.88,46.03,15.52],[46.33,15.86,46.29,15.5],[46.6,15.84,46.56,15.52],[46.86,15.81,46.81,15.49],[47.12,15.79,47.08,15.5],[47.39,15.75,47.36,15.49],
[45.2,15.92,45.27,16],[45.47,15.91,45.54,15.995],[45.73,15.89,45.8,15.98],[45.99,15.87,46.07,15.96],[46.27,15.86,46.33,15.94],[46.55,15.85,46.61,15.91],[46.81,15.84,46.88,15.89],[47.08,15.84,47.13,15.87],[47.33,15.87,47.41,15.85],
[45.87,16.8,46.11,16.9],[46.16,16.84,46.38,16.9],[46.41,16.81,46.66,16.85],[46.86,16.85,47.09,16.81],[46.67,16.75,46.93,16.73],[46.06,16.98,46.29,17.04],[46.35,16.99,46.57,17.02],[46.62,16.95,46.86,16.93],[47.04,16.95,47.25,16.88],[46.25,17.14,46.46,17.18],[46.54,17.14,46.77,17.14],[46.8,17.08,47.03,17.03],[46.97,17.2,47.2,17.13],
[46.46,17.32,46.65,17.35],[46.72,17.3,46.94,17.26],[46.67,17.5,46.81,17.49],[46.91,17.45,47.1,17.39],[46.85,17.71,47.01,17.65],[47.05,17.55,47.28,17.46],[47.12,17.82,47.3,17.71],[47.23,17.39,47.47,17.29],[47.05,18.19,47.22,18.04],
[45.71,16.63,45.93,16.7],[45.97,16.7,46.23,16.78],[45.85,16.56,46.08,16.64],[46.25,16.7,46.49,16.75],[46.12,16.61,46.35,16.67],[46.48,16.64,46.73,16.69],[45.55,16.46,45.77,16.55],[45.72,16.42,45.98,16.51],[45.98,16.51,46.33,16.57],[46.33,16.57,46.54,16.61],
[45.37,16.28,45.6,16.38],[45.88,16.37,46.17,16.49],[45.6,16.25,45.84,16.34],[46.03,16.33,46.37,16.42],[46.2,16.36,46.59,16.47],[46.54,16.48,46.8,16.48],[46.72,16.54,46.99,16.52],[46.9,16.63,47.2,16.57],[47.1,16.7,47.39,16.6],
[45.23,16.12,45.43,16.21],[45.48,16.09,45.69,16.18],[45.79,16.21,46.03,16.27],[45.99,16.19,46.21,16.26],[46.19,16.2,46.38,16.24],[46.38,16.23,46.75,16.3],[46.78,16.33,47.05,16.31],[46.97,16.39,47.26,16.33],[47.18,16.46,47.48,16.34],[45.72,16.06,45.92,16.13],[45.96,16.03,46.16,16.12],[46.21,16.03,46.41,16.12],[46.45,16.04,46.64,16.1],[46.67,16.07,46.86,16.1],[46.86,16.1,47.09,16.09],[47.06,16.15,47.33,16.09],[47.3,16.23,47.58,16.08],
[47.55,16.55,47.82,16.38],[47.62,16.3,47.87,16.09],[47.71,16.04,47.92,15.84],[47.94,16.55,48.16,16.4],[47.9,16.25,48.14,16.07],[47.9,16.03,48.13,15.88],[47.84,15.77,48,15.6],
[47.78,18.54,48.03,18.4],[49.08,18.54,49.18,18.48],[46.92,18.54,47.08,18.38],[47.38,18.33,47.6,18.18],[49.04,18.34,49.29,18.2],[48.49,18.13,48.8,18],[49.13,18.06,49.39,17.92],[47.97,17.98,48.25,17.85],[47.49,17.77,47.73,17.64],[49.24,17.77,49.5,17.64],[48.7,17.57,48.99,17.45],[49.34,17.48,49.6,17.36],[48.18,17.46,48.46,17.33],[47.22,17.39,47.47,17.29],[47.73,17.32,47.99,17.2],[49.44,17.2,49.7,17.07],[48.9,17,49.18,16.88],[49.54,16.91,49.8,16.78],[47.97,16.87,48.13,16.78],[48.52,16.87,48.62,16.82],[49.64,16.63,49.89,16.5],[49.09,16.44,49.38,16.32],[47.94,16.55,48.19,16.38],[48.43,16.38,48.69,16.22],[49.73,16.34,49.98,16.2],[48.13,16.09,48.36,15.93],[49.83,16.04,50.07,15.93],[49.27,15.87,49.55,15.76],[48.04,16,48.27,15.75],[48.21,15.86,48.41,15.71],[48.64,15.75,48.88,15.62],[49.91,15.76,50.16,15.65],[50,15.47,50.25,15.36],[48.13,15.65,48.3,15.52],[47.96,15.47,48.1,15.35],[48.36,15.38,48.55,15.27],[49.44,15.3,49.73,15.19],[48.92,15.19,49.18,15.08],[48.06,15.17,48.25,15.08],[50.09,15.18,50.25,15.1],[48.52,15.02,48.75,14.92],[47.11,17.82,47.3,17.71],[47.06,17.55,47.28,17.45],
[47.78,14.98,47.95,14.93],[50.17,14.91,50.25,14.87],[48.16,14.87,48.37,14.78],[47.59,14.8,47.75,14.78],[47.82,14.71,48.04,14.67],[49.62,14.73,49.9,14.63],[49.08,14.7,49.36,14.58],[47.36,14.63,47.56,14.65],[48.63,14.65,48.89,14.53],[47.63,14.58,47.84,14.56],[48.24,14.55,48.47,14.47],[47.16,14.47,47.37,14.51],[47.44,14.45,47.66,14.45],[47.88,14.46,48.11,14.4],[46.95,14.32,47.18,14.38],[47.24,14.32,47.47,14.34],[47.7,14.35,47.93,14.33],[46.77,14.16,47,14.23],[47.05,14.18,47.28,14.22],[47.5,14.24,47.74,14.24],[47.31,14.14,47.55,14.15],[47.75,14.12,47.86,14.11],[46.88,14.06,47.12,14.12],[47.13,14.04,47.37,14.08],[47.55,14.04,47.8,14.03],[49.79,14.16,50.06,14.06],[48.71,14.25,48.78,14.23],[46.97,13.95,47.21,13.99],[47.37,13.96,47.6,13.98],[47.99,13.95,48.25,13.87],[48.34,13.95,48.61,13.84],[47.8,13.89,48.07,13.85],[48.75,13.87,48.99,13.75],[48.06,13.72,48.34,13.61],[48.34,13.72,48.61,13.57],[47.62,13.82,47.87,13.82],[47.84,13.66,48.13,13.6],[49.3,13.58,49.54,13.46],[49.94,13.6,50.23,13.5],[48.67,13.57,48.89,13.41],[48.3,13.56,48.55,13.37],[48.14,13.5,48.42,13.34],[47.9,13.43,48.16,13.35],[48.47,13.39,48.71,13.19],[48.99,13.25,49.17,13.1],[48.7,13.05,48.87,12.9],[49.58,12.91,49.82,12.81],[50.1,13.02,50.25,12.97],[49.16,12.74,49.35,12.65],[48.81,12.63,48.96,12.54],[48.16,12.62,48.39,12.36],
[47.03,13.54,47.25,13.57],[47.25,13.57,47.47,13.6],[47.47,13.6,47.65,13.61],[47.65,13.61,47.91,13.6],[46.78,13.39,47,13.46],[47.01,13.37,47.22,13.43],[47.24,13.37,47.48,13.39],[47.48,13.39,47.72,13.39],[47.69,13.39,47.93,13.37],[46.75,13.73,46.97,13.78],[47.04,13.7,47.28,13.74],[47.25,13.73,47.43,13.75],[47.43,13.78,47.66,13.79],
[46.97,14.98,47.2,14.75],[46.75,14.84,47.01,14.57],[46.54,14.67,46.8,14.4],[46.34,14.49,46.61,14.22],[46.14,14.32,46.4,14.06],[45.94,14.14,46.2,13.87],[45.74,13.96,46,13.71],
[47.18,14.71,47.26,14.68],[46.96,14.53,47.06,14.51],[46.74,14.35,46.87,14.32],[46.53,14.17,46.66,14.15],[46.33,14,46.46,13.98],[46.13,13.82,46.25,13.8],[45.93,13.66,46.06,13.63],
[43.64,14.98,43.82,15.02],[43.97,15.1,44.12,15.14],[44.29,14.92,44.52,15],[44.6,15.01,44.84,15.1],[44.94,15.1,45.07,15.16],[43.46,14.6,43.64,14.65],[43.67,14.7,43.91,14.77],[43.98,14.81,44.22,14.89],
[43.95,13.91,44.22,14.04],[44.22,14.03,44.49,14.12],[44.52,14.16,44.8,14.24],[44.83,14.28,45.08,14.35],[45.12,14.4,45.37,14.48],[45.31,14.48,45.56,14.55],[45.5,14.57,45.74,14.64],[43.65,13.77,43.88,13.86],[44.39,13.8,44.63,13.87],[44.67,13.93,44.92,14],[44.97,14.05,45.18,14.12],[45.27,14.18,45.47,14.22],[45.45,14.32,45.63,14.34],[45.63,14.42,45.79,14.41],[45.85,14.56,46.03,14.56],[45.79,14.27,45.93,14.26],[45.6,14.14,45.74,14.11],[45.4,13.97,45.55,13.96],[45.12,13.83,45.26,13.86],[44.83,13.7,44.97,13.74],[44.56,13.57,44.69,13.64],[44.11,13.66,44.28,13.74],[43.83,13.52,44,13.6],[44.29,13.45,44.39,13.5],[43.6,13.35,43.72,13.44],[44.07,13.31,44.12,13.36],[44.75,13.34,44.78,13.37],[43.85,13.15,43.89,13.19],[44.49,13.23,44.47,13.26],
[43.98,12.52,44.09,12.54],[43.6,12.83,43.67,12.84],[44.28,12.62,44.38,12.65],[44.59,12.74,44.66,12.76],[44.87,12.84,44.92,12.87],[45.18,12.94,45.22,12.96],[45.48,13.04,45.51,13.05],
[44.55,12.47,44.75,12.5],[44.84,12.57,45.02,12.61],[45.14,12.66,45.31,12.7],[45.43,12.73,45.59,12.8],[45.72,12.77,45.88,12.86],[45.98,12.74,46.12,12.84],[46.22,12.72,46.36,12.81],[46.46,12.71,46.59,12.81],[46.7,12.7,46.83,12.8],[46.94,12.69,47.07,12.77],[47.15,12.68,47.29,12.74],[47.37,12.65,47.52,12.7],[47.6,12.63,47.74,12.65],[47.86,12.61,47.97,12.6],
[46.17,12.52,46.43,12.62],[46.39,12.53,46.61,12.61],[46.61,12.55,46.85,12.61],[46.83,12.49,47.05,12.56],[47.05,12.38,47.29,12.44],[46.4,12.39,46.78,12.49],[46.77,12.43,47.02,12.48],[47.07,12.5,47.25,12.56],[47.31,12.47,47.54,12.5],[47.68,12.45,47.81,12.44],
[46.09,13.33,46.03,12.96],[46.37,13.29,46.3,12.92],[46.64,13.26,46.56,12.89],[46.89,13.21,46.83,12.88],[47.16,13.17,47.09,12.84],[47.42,13.13,47.36,12.81],[47.69,13.1,47.63,12.82],[47.95,13.06,47.9,12.77],
[46.03,13.32,46.11,13.41],[46.3,13.29,46.37,13.35],[46.57,13.27,46.65,13.34],[46.83,13.22,46.91,13.3],[47.1,13.2,47.17,13.25],[47.35,13.16,47.42,13.21],[47.63,13.14,47.7,13.18],[47.9,13.13,47.97,13.15],[48.16,13.13,48.22,13.12],
[46.06,13.51,46.3,13.59],[46.32,13.47,46.56,13.55],[46.56,13.43,46.8,13.51],[46.8,13.39,47.02,13.45],[47,13.37,47.23,13.42],[47.25,13.37,47.49,13.39],[46.24,13.67,46.48,13.76],[46.45,13.63,46.67,13.69],[46.64,13.58,46.88,13.65],[46.89,13.61,47.12,13.66],[46.41,13.84,46.67,13.91],[46.57,13.78,46.81,13.86],[46.75,13.73,47.01,13.79],[47.02,13.7,47.29,13.77],[46.57,14,46.81,14.08],[46.72,13.92,46.96,13.98],[46.93,13.94,47.17,13.99],[46.77,14.16,47.01,14.24],[47.07,14.19,47.29,14.23],[46.96,14.31,47.18,14.34],
[47.17,15.18,47.43,14.92],[47.36,15.36,47.62,15.08],[47.58,15.08,47.66,15.03],
[45.9,14.77,46.11,14.83],[46.08,14.86,46.32,14.91],[46.2,14.79,46.4,14.79],[46.37,14.7,46.52,14.68],[46.17,14.57,46.3,14.54],[45.98,14.42,46.12,14.4],[46.38,14.9,46.53,14.91],[46.54,14.85,46.68,14.83],[46.7,15,46.86,14.98],[46.88,15.16,47,15.16]
];
const chainsB = [
[[43.45,17.19],[43.72,17.29],[44.04,17.39],[44.44,17.5],[44.68,17.58],[44.89,17.65],[45.08,17.71],[45.26,17.75]],
[[43.46,16.91],[43.8,17.04],[44.11,17.16],[44.32,17.24],[44.52,17.32],[44.73,17.4],[44.92,17.49],[45.1,17.56],[45.39,17.67],[45.56,17.73]],
[[43.61,16.67],[43.93,16.81],[44.19,16.92]],
[[44.61,14.76],[44.95,14.87],[45.18,14.95],[45.42,15],[45.61,15.08],[45.88,15.14]],
[[43.46,14.34],[43.72,14.42],[44.01,14.54],[44.33,14.65],[44.64,14.76]],
[[43.46,14.01],[43.8,14.16],[44.09,14.28],[44.38,14.39],[44.7,14.51],[45.02,14.62],[45.21,14.68],[45.42,14.75],[45.6,14.83],[46.01,14.96],[46.33,15.07]],
[[45.13,12.39],[45.44,12.45],[45.71,12.52],[45.95,12.59]]
];

const deltaLabelsA = [['2nd cooling delta', 50.805, 2.99], ['1st cooling delta', 50.7, 0.147]];
const deltaLabelsB = [['7th cooling delta', 48.07, 16.99], ['6th cooling delta', 48.72, 14.105]];

const xMajorA = [47, 48, 49, 50, 51, 52];
const yMajorA = [-1, 0, 1, 2, 3, 4];
const xMajorB = [44, 45, 46, 47, 48, 49, 50];
const yMajorB = [13, 14, 15, 16, 17, 18];

Chart.defaults.font.family = '"Liberation Serif", serif';
Chart.defaults.color = '#222';
Chart.defaults.animation = false;

const pts = list => list.map(p => ({x: p[0], y: p[1]}));

// Region below a contour level: the level's path closed around the left side of the plot
function belowLevel(path, xRange, yRange) {
    return [[xRange[0], yRange[1]], ...path, [xRange[0], yRange[0]]];
}

function shape(list, color) {
    return {
        data: pts(list), showLine: true, fill: 'shape', backgroundColor: color,
        borderWidth: 0, pointRadius: 0, tension: 0
    };
}

function rangeBox(xRange, yRange) {
    return [[xRange[0], yRange[0]], [xRange[1], yRange[0]], [xRange[1], yRange[1]], [xRange[0], yRange[1]]];
}

function arrowDataset(arrows, chains) {
    const all = arrows.slice();
    chains.forEach(chain => {
        for (let i = 0; i + 1 < chain.length; i++) {
            all.push([chain[i][0], chain[i][1], chain[i + 1][0], chain[i + 1][1]]);
        }
    });
    const data = [], radius = [], rotation = [];
    all.forEach(a => {
        data.push({x: a[0], y: a[1]}, {x: a[2], y: a[3]}, {x: null, y: null});
        radius.push(5, 0, 0);
        const angle = Math.atan2(a[0] - a[2], a[1] - a[3]) * 180 / Math.PI;
        rotation.push(angle, 0, 0);
    });
    return {
        data, showLine: true, spanGaps: false, borderColor: '#111', borderWidth: 2, tension: 0,
        pointStyle: 'triangle', pointRadius: radius, pointRotation: rotation,
        pointBackgroundColor: '#111', pointBorderWidth: 0
    };
}

// Tecplot style ticks, drawn into the plot from the axes
function insideTicks(xMajor, yMajor) {
    return {
        id: 'insideTicks',
        afterDatasetsDraw(chart) {
            const {ctx, chartArea: area, scales: {x, y}} = chart;
            const mark = (px, py, w, h) => ctx.fillRect(px, py, w, h);
            ctx.save();
            ctx.fillStyle = '#000';
            const minorStep = 0.2;
            for (let v = Math.ceil(x.min / minorStep) * minorStep; v < x.max; v += minorStep) {
                mark(x.getPixelForValue(v) - 1, area.bottom - 13, 2, 13);
            }
            for (let v = Math.ceil(y.min / minorStep) * minorStep; v < y.max; v += minorStep) {
                mark(area.left, y.getPixelForValue(v) - 1, 13, 2);
            }
            xMajor.forEach(v => mark(x.getPixelForValue(v) - 2.5, area.bottom - 27, 5, 27));
            yMajor.forEach(v => mark(area.left, y.getPixelForValue(v) - 3, 27, 6));
            ctx.restore();
        }
    };
}

function deltaLabels(items) {
    return {
        id: 'deltaLabels',
        afterDatasetsDraw(chart) {
            const {ctx, scales: {x, y}} = chart;
            ctx.save();
            ctx.font = '47px "Liberation Serif"';
            ctx.textAlign = 'center';
            ctx.textBaseline = 'middle';
            items.forEach(([text, vx, vy]) => {
                const px = x.getPixelForValue(vx), py = y.getPixelForValue(vy);
                const w = ctx.measureText(text).width + 10;
                ctx.fillStyle = '#fff';
                ctx.fillRect(px - w / 2, py - 24, w, 48);
                ctx.fillStyle = '#111';
                ctx.fillText(text, px, py + 1);
            });
            ctx.restore();
        }
    };
}

function plot(id, xRange, yRange, shapes, arrows, labels, xMajor, yMajor, yWidth, xHeight, rightPad) {
    const layers = [...shapes, arrows];
    layers.forEach((d, i) => { d.order = -i; });
    return new Chart(document.getElementById(id), {
        type: 'scatter',
        data: {datasets: layers},
        plugins: [insideTicks(xMajor, yMajor), deltaLabels(labels)],
        options: {
            responsive: false,
            events: [],
            layout: {padding: {top: 133, right: rightPad, left: 0, bottom: 0}},
            plugins: {legend: {display: false}, tooltip: {enabled: false}},
            scales: {
                x: {
                    type: 'linear', min: xRange[0], max: xRange[1],
                    afterFit: s => { s.height = xHeight; },
                    grid: {display: false},
                    border: {color: '#000', width: 5},
                    ticks: {stepSize: 1, includeBounds: false, padding: 12, maxRotation: 0, font: {size: 46}, color: '#333'}
                },
                y: {
                    type: 'linear', min: yRange[0], max: yRange[1],
                    afterFit: s => { s.width = yWidth; },
                    grid: {display: false},
                    border: {color: '#000', width: 5},
                    ticks: {stepSize: 1, includeBounds: false, padding: 17, font: {size: 46}, color: '#333'}
                }
            }
        }
    });
}

function colorbar(id, boxW, padLeft, padTop, padBottom) {
    return new Chart(document.getElementById(id), {
        type: 'bar',
        data: {
            labels: ['Pressure'],
            datasets: bandHeights.map((h, i) => ({
                data: [h], backgroundColor: bandColors[i],
                borderColor: 'rgba(0,0,0,0.55)', borderWidth: 1.5, borderSkipped: false,
                barPercentage: 1, categoryPercentage: 1
            }))
        },
        options: {
            responsive: false,
            events: [],
            layout: {padding: {left: padLeft, top: padTop, bottom: padBottom, right: 0}},
            plugins: {legend: {display: false}, tooltip: {enabled: false}},
            scales: {
                x: {stacked: true, display: false},
                y: {
                    stacked: true, position: 'right', min: 0, max: 16,
                    afterFit: s => {
                        s.width = boxW - padLeft - 68;
                        s.paddingTop = 0;
                        s.paddingBottom = 0;
                    },
                    afterBuildTicks: s => { s.ticks = levels.map((_, i) => ({value: i + 0.5})); },
                    grid: {display: false},
                    border: {display: false},
                    ticks: {
                        callback: v => levels[v - 0.5],
                        padding: 33, labelOffset: 6, crossAlign: 'near', autoSkip: false,
                        font: {size: 44}, color: '#222'
                    }
                }
            }
        }
    });
}

const shapesA = [
    shape(rangeBox(xRangeA, yRangeA), '#ffbf00'),
    shape(aStrip249, '#ff8000'),
    shape(aStrip266, '#ff4000'),
    ...aBlobs249.map(b => shape(b, '#ff8000')),
    ...aBlobs266.map(b => shape(b, '#ff4000')),
    shape(belowLevel(a216, xRangeA, yRangeA), '#ffff00'),
    shape(belowLevel(a199, xRangeA, yRangeA), '#a0ff00'),
    shape(belowLevel(a182, xRangeA, yRangeA), '#00ff00'),
    shape(belowLevel(a115, xRangeA, yRangeA), '#00ff80'),
    shape(belowLevel(a98, xRangeA, yRangeA), '#00ffbf'),
    shape(belowLevel(a81, xRangeA, yRangeA), '#00ffff'),
    shape(belowLevel(a64, xRangeA, yRangeA), '#00bfff'),
    shape(belowLevel(a47, xRangeA, yRangeA), '#0080ff'),
    shape(belowLevel(a31, xRangeA, yRangeA), '#0040ff'),
    ...aStruts.map(s => shape(s, '#ffffff'))
];

const shapesB = [
    shape(rangeBox(xRangeB, yRangeB), '#ffbf00'),
    shape(bStrip249, '#ff8000'),
    ...bBlobs216.map(b => shape(b, '#ffff00')),
    ...bBlobs249.map(b => shape(b, '#ff8000')),
    ...bBlobs266.map(b => shape(b, '#ff4000')),
    ...bBlobs300.map(b => shape(b, '#ff0000')),
    shape(belowLevel(b216, xRangeB, yRangeB), '#ffff00'),
    shape(belowLevel(b199, xRangeB, yRangeB), '#a0ff00'),
    shape(belowLevel(b182, xRangeB, yRangeB), '#00ff00'),
    shape(belowLevel(b115, xRangeB, yRangeB), '#00ff80'),
    shape(belowLevel(b98, xRangeB, yRangeB), '#00ffbf'),
    shape(belowLevel(b81, xRangeB, yRangeB), '#00ffff'),
    shape(belowLevel(b64, xRangeB, yRangeB), '#00bfff'),
    shape(belowLevel(b47, xRangeB, yRangeB), '#0080ff'),
    shape(belowLevel(b31, xRangeB, yRangeB), '#0040ff'),
    ...bStruts.map(s => shape(s, '#ffffff'))
];

plot('plotA', xRangeA, yRangeA, shapesA, arrowDataset(arrowsA, chainsA), deltaLabelsA, xMajorA, yMajorA, 110, 102, 4);
plot('plotB', xRangeB, yRangeB, shapesB, arrowDataset(arrowsB, chainsB), deltaLabelsB, xMajorB, yMajorB, 141, 104, 3);
colorbar('barA', 203, 18, 47, 40);
colorbar('barB', 203, 17, 48, 40);
</script>
</body>
</html>
